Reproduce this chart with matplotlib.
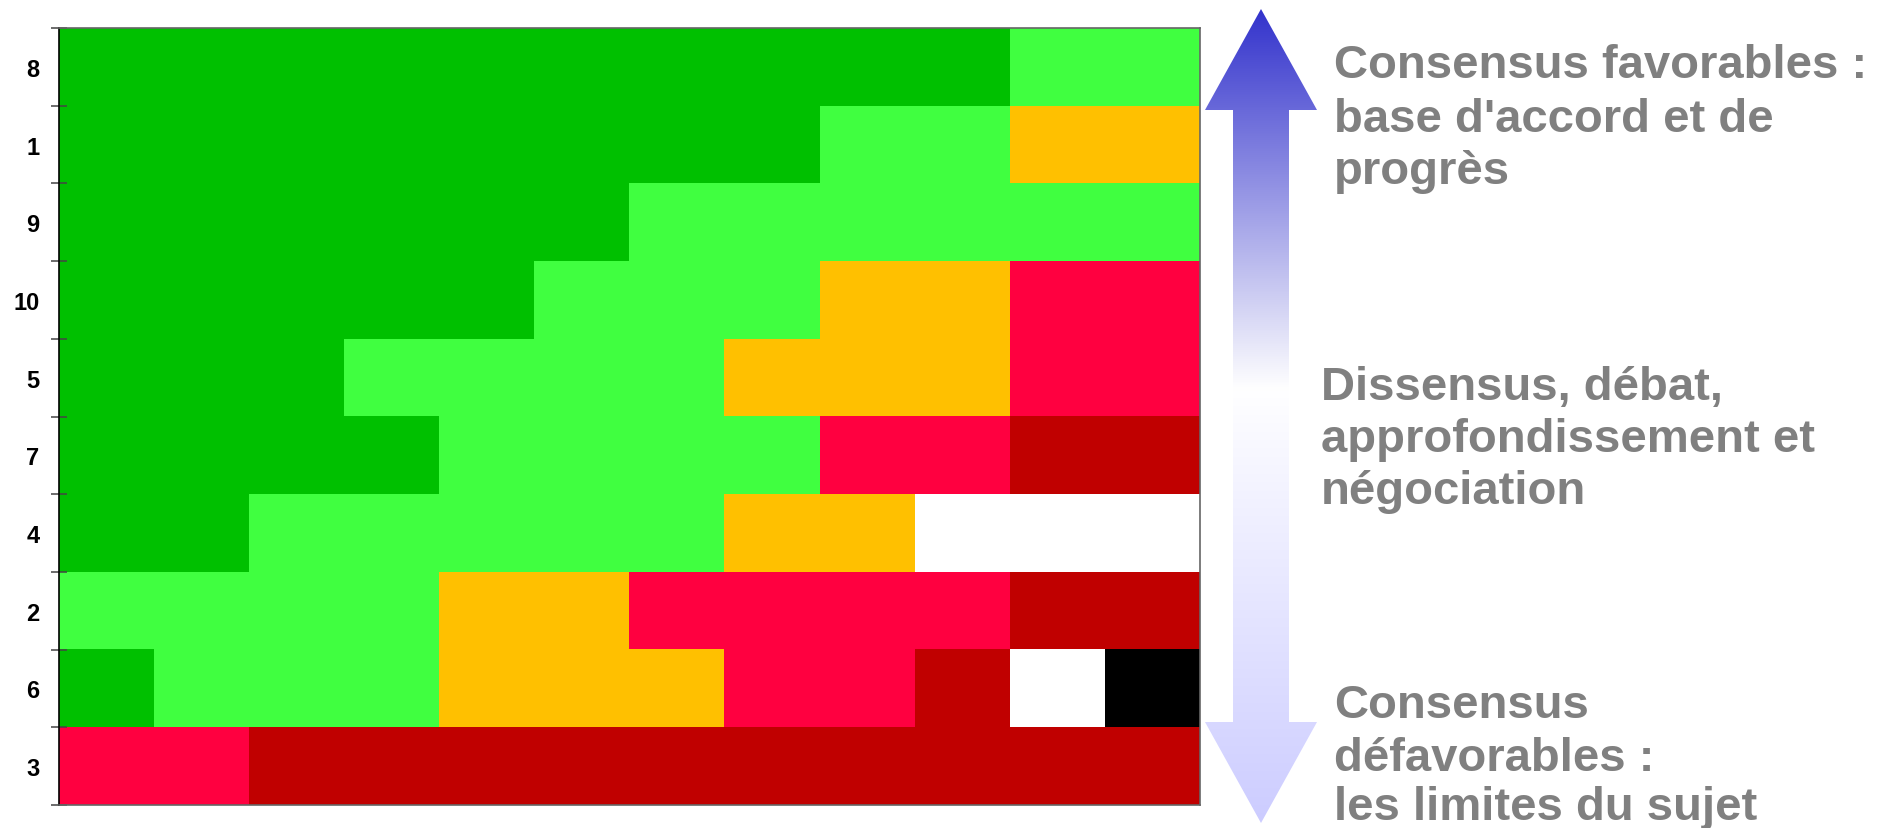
import numpy as np
import matplotlib
matplotlib.use("Agg")
import matplotlib.pyplot as plt
from matplotlib.colors import ListedColormap, BoundaryNorm
from matplotlib.patches import Polygon

# ---- data ----
# codes: -1 = no answer (white), 0 = black, 1 = dark red, 2 = red,
#         3 = orange, 4 = light green, 5 = dark green
row_labels = ["8", "1", "9", "10", "5", "7", "4", "2", "6", "3"]
row_8  = [5, 5, 5, 5, 5, 5, 5, 5, 5, 5, 4, 4]
row_1  = [5, 5, 5, 5, 5, 5, 5, 5, 4, 4, 3, 3]
row_9  = [5, 5, 5, 5, 5, 5, 4, 4, 4, 4, 4, 4]
row_10 = [5, 5, 5, 5, 5, 4, 4, 4, 3, 3, 2, 2]
row_5  = [5, 5, 5, 4, 4, 4, 4, 3, 3, 3, 2, 2]
row_7  = [5, 5, 5, 5, 4, 4, 4, 4, 2, 2, 1, 1]
row_4  = [5, 5, 4, 4, 4, 4, 4, 3, 3, -1, -1, -1]
row_2  = [4, 4, 4, 4, 3, 3, 2, 2, 2, 2, 1, 1]
row_6  = [5, 4, 4, 4, 3, 3, 3, 2, 2, 1, -1, 0]
row_3  = [2, 2, 1, 1, 1, 1, 1, 1, 1, 1, 1, 1]
grid = np.array([row_8, row_1, row_9, row_10, row_5, row_7, row_4, row_2, row_6, row_3])

category_colors = ["#ffffff", "#000000", "#c00000", "#ff0040", "#ffc000", "#40ff40", "#00c000"]

text_top = ["Consensus favorables :", "base d'accord et de", "progrès"]
text_mid = ["Dissensus, débat,", "approfondissement et", "négociation"]
text_bot = ["Consensus", "défavorables :", "les limites du sujet"]

# ---- figure ----
W, H = 1898, 829
fig = plt.figure(figsize=(W / 100, H / 100), dpi=100)
fig.patch.set_facecolor("white")

ax = fig.add_axes([59 / W, 1 - 806 / H, (1200 - 59) / W, (806 - 29) / H])
cmap = ListedColormap(category_colors)
norm = BoundaryNorm(np.arange(-1.5, 6.5, 1), cmap.N)
nrows, ncols = grid.shape
ax.imshow(grid, cmap=cmap, norm=norm, aspect="auto", interpolation="nearest",
          extent=(0, ncols, nrows, 0))
ax.set_xlim(0, ncols)
ax.set_ylim(nrows, 0)
ax.set_xticks([])
ax.set_yticks(np.arange(nrows) + 0.5)
ax.set_yticklabels(row_labels, fontsize=17, fontweight="bold",
                   family=["Liberation Sans", "DejaVu Sans"])
ax.set_yticks(np.arange(nrows + 1), minor=True)
ax.tick_params(axis="y", which="major", length=0, pad=14)
ax.tick_params(axis="y", which="minor", length=12, width=1.1, direction="inout",
               color="#444444")
for s in ["top", "right", "bottom"]:
    ax.spines[s].set_color("#666666")
    ax.spines[s].set_linewidth(1.2)
ax.spines["left"].set_color("black")
ax.spines["left"].set_linewidth(1.2)

# ---- overlay (pixel coordinates) ----
ov = fig.add_axes([0, 0, 1, 1])
ov.set_xlim(0, W)
ov.set_ylim(H, 0)
ov.axis("off")

cx = 1261
arrow_pts = [(cx, 10), (1317, 111), (1289, 111), (1289, 723), (1317, 723),
             (cx, 824), (1205, 723), (1233, 723), (1233, 111), (1205, 111)]
poly = Polygon(arrow_pts, closed=True, facecolor="none", edgecolor="none")
ov.add_patch(poly)

ys = np.linspace(10, 824, 400)
top_c = np.array([0.20, 0.20, 0.80])
mid_c = np.array([1.0, 1.0, 1.0])
bot_c = np.array([0.80, 0.80, 1.0])
ymid = 390
grad = np.zeros((len(ys), 1, 3))
for i, y in enumerate(ys):
    if y <= ymid:
        t = (y - 10) / (ymid - 10)
        grad[i, 0] = top_c + (mid_c - top_c) * t
    else:
        t = (y - ymid) / (824 - ymid)
        grad[i, 0] = mid_c + (bot_c - mid_c) * t
im = ov.imshow(grad, extent=(1205, 1317, 824, 10), aspect="auto",
               interpolation="bilinear")
im.set_clip_path(poly)

tfont = dict(fontsize=34, fontweight="bold", color="#808080",
             family=["Liberation Sans", "DejaVu Sans"], va="baseline", ha="left")
for line, y in zip(text_top, [78, 132, 184]):
    ov.text(1334, y, line, **tfont)
for line, y in zip(text_mid, [400, 452, 504]):
    ov.text(1321, y, line, **tfont)
for line, y in zip(text_bot, [718, 771, 820]):
    ov.text(1334, y, line, **tfont)

fig.savefig("out.png", dpi=100)
